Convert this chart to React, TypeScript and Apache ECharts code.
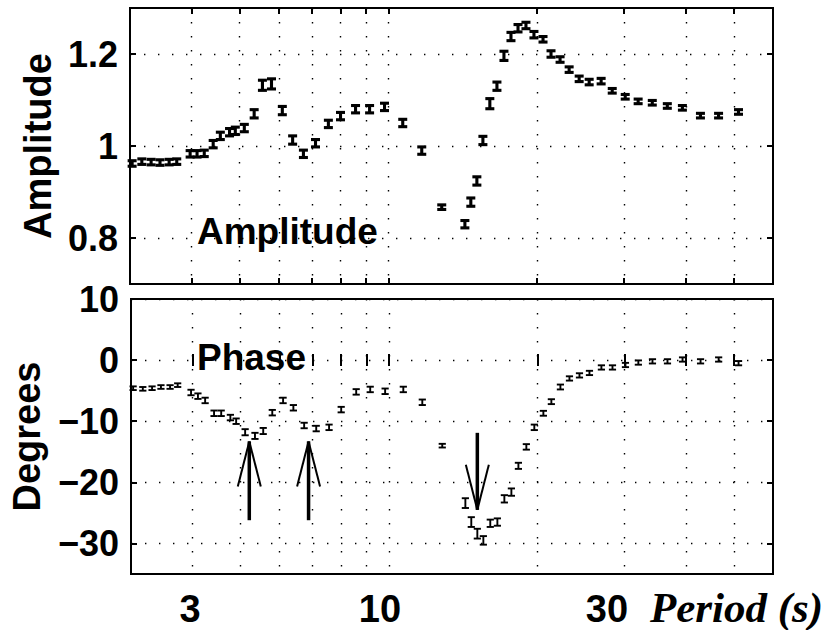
import React, { useEffect, useRef } from "react";
import * as echarts from "echarts";

// Period (s) of each measurement (shared by both panels)
const PERIODS = [
  3.03, 3.17, 3.31, 3.45, 3.6, 3.73, 3.97, 4.1, 4.24, 4.42, 4.57, 4.77, 4.9, 5.11,
  5.35, 5.56, 5.8, 6.1, 6.4, 6.73, 7.12, 7.56, 8.0, 8.58, 9.16, 9.82, 10.69, 11.68,
  12.82, 14.28, 14.68, 15.1, 15.53, 16.04, 16.58, 17.13, 17.7, 18.29, 18.98, 19.7,
  20.55, 21.33, 22.25, 23.21, 24.32, 25.48, 26.94, 28.37, 30.14, 32.01, 34.19,
  36.67, 39.34, 42.79, 46.56, 51.09,
];

const AMPLITUDE = [
  0.962, 0.966, 0.965, 0.964, 0.965, 0.966, 0.983, 0.983, 0.984, 1.004, 1.022, 1.03,
  1.033, 1.039, 1.07, 1.132, 1.135, 1.077, 1.013, 0.983, 1.006, 1.048, 1.065, 1.08,
  1.08, 1.085, 1.05, 0.99, 0.867, 0.83, 0.878, 0.924, 1.012, 1.092, 1.13, 1.196,
  1.238, 1.256, 1.262, 1.242, 1.232, 1.2, 1.188, 1.166, 1.146, 1.139, 1.141, 1.12,
  1.107, 1.097, 1.094, 1.087, 1.083, 1.066, 1.066, 1.074,
];

const AMPLITUDE_ERR = [
  0.006, 0.006, 0.006, 0.006, 0.006, 0.006, 0.007, 0.007, 0.007, 0.008, 0.008, 0.008,
  0.008, 0.008, 0.009, 0.011, 0.011, 0.009, 0.009, 0.008, 0.008, 0.008, 0.008, 0.008,
  0.008, 0.008, 0.008, 0.008, 0.005, 0.008, 0.009, 0.009, 0.009, 0.011, 0.009, 0.01,
  0.009, 0.008, 0.007, 0.007, 0.006, 0.007, 0.006, 0.006, 0.006, 0.006, 0.006, 0.005,
  0.005, 0.005, 0.005, 0.005, 0.005, 0.005, 0.005, 0.005,
];

const PHASE = [
  -4.6, -4.7, -4.6, -4.4, -4.4, -4.1, -5.3, -5.9, -6.6, -8.7, -8.7, -9.4, -10.0, -11.8,
  -12.4, -11.6, -8.6, -6.6, -7.8, -10.7, -11.2, -11.0, -8.1, -5.2, -4.8, -5.1, -4.8,
  -6.9, -14.0, -23.4, -26.5, -28.4, -29.5, -26.7, -26.5, -22.7, -21.6, -17.3, -14.2,
  -11.0, -8.7, -6.8, -4.4, -3.0, -2.5, -2.1, -1.2, -1.2, -0.8, -0.4, -0.2, -0.2, 0.1,
  -0.2, 0.1, -0.5,
];

const PHASE_ERR = [
  0.3, 0.3, 0.3, 0.3, 0.3, 0.3, 0.45, 0.45, 0.45, 0.45, 0.45, 0.45, 0.45, 0.5, 0.5, 0.5,
  0.45, 0.45, 0.45, 0.45, 0.45, 0.45, 0.45, 0.45, 0.45, 0.45, 0.45, 0.45, 0.3, 0.8, 0.8,
  0.8, 0.7, 0.6, 0.6, 0.6, 0.6, 0.5, 0.45, 0.45, 0.4, 0.4, 0.4, 0.35, 0.35, 0.35, 0.35,
  0.35, 0.35, 0.35, 0.35, 0.35, 0.35, 0.35, 0.35, 0.35,
];

// Arrows in the phase panel: [period, tail (deg), tip (deg)]
const ARROWS = [
  [5.21, -26.2, -13.3],
  [6.87, -26.2, -13.3],
  [15.1, -11.9, -24.5],
];

const PERIOD_RANGE = [3, 60];
const GRID_PERIODS = [4, 5, 6, 7, 8, 9, 10, 20, 30, 40, 50];
const AMP_RANGE = [0.7, 1.3];
const AMP_TICKS = [0.8, 1.0, 1.2];
const PHASE_RANGE = [-35, 10];
const PHASE_TICKS = [-30, -20, -10, 0, 10];
const X_LABELS = ["3", "10", "30"];
const X_NAME = "Period (s)";
const AMP_NAME = "Amplitude";
const PHASE_NAME = "Degrees";
const AMP_NOTE = "Amplitude";
const PHASE_NOTE = "Phase";

const SANS = '"Liberation Sans", Arial, Helvetica, sans-serif';
const SERIF = '"Liberation Serif", "Times New Roman", serif';

const lg = (v: number) => Math.log10(v);

export default function App() {
  const ref = useRef<HTMLDivElement>(null);

  useEffect(() => {
    if (!ref.current) return;
    const chart = echarts.init(ref.current, undefined, { renderer: "svg" });

    const dotted = { color: "#000", width: 1.4, type: [1.4, 12.6] as any };
    const tickStyle = { color: "#000", width: 2 };
    const xTickVals = GRID_PERIODS.map(lg);

    const xAxis = (gridIndex: number, position: string, split: boolean) => ({
      type: "value",
      gridIndex,
      position,
      min: lg(PERIOD_RANGE[0]),
      max: lg(PERIOD_RANGE[1]),
      axisLine: { show: false },
      axisLabel: { show: false },
      axisTick: { show: true, inside: true, length: 6, customValues: xTickVals, lineStyle: tickStyle },
      splitLine: { show: split, lineStyle: dotted },
    });

    const labelStyle = {
      show: true,
      fontFamily: SANS,
      fontWeight: "bold",
      fontSize: 36,
      color: "#000",
      margin: 12,
    };

    const yAxis = (
      gridIndex: number,
      position: string,
      range: number[],
      ticks: number[],
      primary: boolean,
      name?: string,
      nameGap?: number
    ) => ({
      type: "value",
      gridIndex,
      position,
      min: range[0],
      max: range[1],
      axisLine: { show: false },
      axisTick: { show: true, inside: true, length: 6, customValues: ticks, lineStyle: tickStyle },
      axisLabel: primary
        ? {
            ...labelStyle,
            customValues: ticks,
            formatter: (v: number) => String(v).replace("-", "\u2212"),
          }
        : { show: false },
      splitLine: { show: primary, lineStyle: dotted },
      name: primary ? name : undefined,
      nameLocation: "middle",
      nameGap,
      nameTextStyle: { fontFamily: SANS, fontWeight: "bold", fontSize: 38, color: "#000" },
    });

    const errorBar = (capHalf: number, lw: number) => (params: any, api: any) => {
      const x = api.value(0);
      const y = api.value(1);
      const e = api.value(2);
      const top = api.coord([x, y + e]);
      const bot = api.coord([x, y - e]);
      const style = { stroke: "#000", lineWidth: lw, fill: "none" };
      return {
        type: "group",
        children: [
          { type: "line", shape: { x1: top[0], y1: top[1], x2: bot[0], y2: bot[1] }, style },
          { type: "line", shape: { x1: top[0] - capHalf, y1: top[1], x2: top[0] + capHalf, y2: top[1] }, style },
          { type: "line", shape: { x1: bot[0] - capHalf, y1: bot[1], x2: bot[0] + capHalf, y2: bot[1] }, style },
        ],
      };
    };

    const arrowRender = (params: any, api: any) => {
      const x = api.value(0);
      const tail = api.coord([x, api.value(1)]);
      const tip = api.coord([x, api.value(2)]);
      const dir = tip[1] < tail[1] ? -1 : 1;
      const hl = 45;
      const hw = 11.5;
      const shaft = { stroke: "#000", lineWidth: 3.5, fill: "none" };
      const head = { stroke: "#000", lineWidth: 2, fill: "none" };
      return {
        type: "group",
        children: [
          { type: "line", shape: { x1: tail[0], y1: tail[1], x2: tip[0], y2: tip[1] }, style: shaft },
          { type: "line", shape: { x1: tip[0], y1: tip[1], x2: tip[0] - hw, y2: tip[1] - dir * hl }, style: head },
          { type: "line", shape: { x1: tip[0], y1: tip[1], x2: tip[0] + hw, y2: tip[1] - dir * hl }, style: head },
        ],
      };
    };

    const ampData = PERIODS.map((p, i) => [lg(p), AMPLITUDE[i], AMPLITUDE_ERR[i]]);
    const phaseData = PERIODS.map((p, i) => [lg(p), PHASE[i], PHASE_ERR[i]]);
    const arrowData = ARROWS.map((a) => [lg(a[0]), a[1], a[2]]);

    const textEl = (text: string, x: number, y: number, font: string, align = "left") => ({
      type: "text",
      x,
      y,
      z: 100,
      style: { text, font, fill: "#000", align, verticalAlign: "middle" },
    });

    const option: any = {
      animation: false,
      backgroundColor: "#fff",
      grid: [
        { left: 130, top: 8, width: 643, height: 276, show: true, borderColor: "#000", borderWidth: 2, backgroundColor: "transparent" },
        { left: 130, top: 299, width: 643, height: 275, show: true, borderColor: "#000", borderWidth: 2, backgroundColor: "transparent" },
      ],
      xAxis: [
        xAxis(0, "bottom", true),
        xAxis(0, "top", false),
        xAxis(1, "bottom", true),
        xAxis(1, "top", false),
      ],
      yAxis: [
        yAxis(0, "left", AMP_RANGE, AMP_TICKS, true, AMP_NAME, 73),
        yAxis(0, "right", AMP_RANGE, AMP_TICKS, false),
        yAxis(1, "left", PHASE_RANGE, PHASE_TICKS, true, PHASE_NAME, 85),
        yAxis(1, "right", PHASE_RANGE, PHASE_TICKS, false),
      ],
      series: [
        {
          name: "Amplitude",
          type: "custom",
          xAxisIndex: 0,
          yAxisIndex: 0,
          renderItem: errorBar(4.5, 3.1),
          encode: { x: 0, y: 1 },
          data: ampData,
        },
        {
          name: "Phase",
          type: "custom",
          xAxisIndex: 2,
          yAxisIndex: 2,
          renderItem: errorBar(3.6, 1.9),
          encode: { x: 0, y: 1 },
          data: phaseData,
        },
        {
          name: "Arrows",
          type: "custom",
          xAxisIndex: 2,
          yAxisIndex: 2,
          renderItem: arrowRender,
          encode: { x: 0, y: [1, 2] },
          data: arrowData,
        },
      ],
      graphic: [
        textEl(AMP_NOTE, 197, 231, `bold 37px ${SANS}`),
        textEl(PHASE_NOTE, 197, 357, `bold 37px ${SANS}`),
        textEl(X_LABELS[0], 190, 609, `bold 38px ${SANS}`, "center"),
        textEl(X_LABELS[1], 380, 609, `bold 38px ${SANS}`, "center"),
        textEl(X_LABELS[2], 607, 609, `bold 38px ${SANS}`, "center"),
        textEl(X_NAME, 650, 607, `italic bold 43px ${SERIF}`),
      ],
    };

    chart.setOption(option);
    return () => chart.dispose();
  }, []);

  return (
    <div
      ref={ref}
      style={{ position: "fixed", left: 0, top: 0, width: 836, height: 630, background: "#fff" }}
    />
  );
}
